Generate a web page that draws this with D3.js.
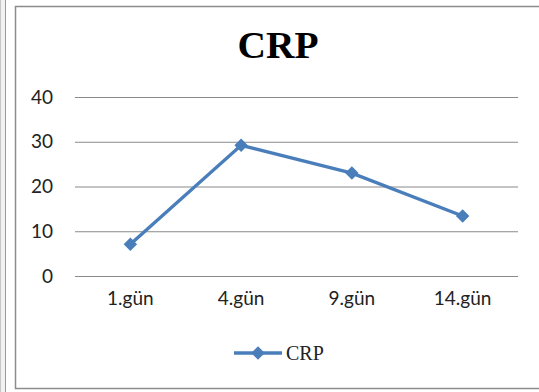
<!DOCTYPE html>
<html>
<head>
<meta charset="utf-8">
<script src="https://cdn.jsdelivr.net/npm/d3@7"></script>
<style>
  body { margin: 0; background: #fff; }
</style>
</head>
<body>
<div id="chart-area"></div>
<script>
// chart values
var days = ["1.gün", "4.gün", "9.gün", "14.gün"];
var crpValues = [7.1, 29.2, 23.0, 13.4];
var yTicks = [0, 10, 20, 30, 40];
var seriesName = "CRP";

var W = 539, H = 392;
var margin = { top: 97, bottom: 116, left: 75, right: 21 };
var width = W - margin.left - margin.right,
    height = H - margin.top - margin.bottom;

var svg = d3.select("#chart-area")
    .append("svg")
        .attr("width", W)
        .attr("height", H);

// outer frames
svg.append("rect")
    .attr("x", 0).attr("y", -2).attr("width", 5.5).attr("height", H + 4)
    .attr("fill", "#f2f2f2").attr("stroke", "#9a9a9a");
svg.append("rect")
    .attr("x", 15.5).attr("y", 6.5).attr("width", W + 10).attr("height", 382)
    .attr("fill", "#fff").attr("stroke", "#8c8c8c").attr("stroke-width", 1.5);

// title
svg.append("text")
    .attr("x", 278).attr("y", 58)
    .attr("text-anchor", "middle")
    .style("font-family", "'Liberation Serif', 'Times New Roman', serif")
    .style("font-weight", "bold")
    .style("font-size", "37px")
    .attr("textLength", 81)
    .attr("lengthAdjust", "spacingAndGlyphs")
    .text(seriesName);

var g = svg.append("g")
    .attr("transform", "translate(" + margin.left + "," + margin.top + ")");

var x = d3.scaleBand()
    .domain(days)
    .range([0, width]);

var y = d3.scaleLinear()
    .domain([0, 40])
    .range([height, 0]);

var labelFont = "Lato, 'Open Sans', sans-serif";

// gridlines + y labels
var yAxisCall = d3.axisLeft(y)
    .tickValues(yTicks)
    .tickSize(-width)
    .tickPadding(22);
var yAxis = g.append("g")
    .attr("class", "y-axis")
    .call(yAxisCall);
yAxis.select(".domain").remove();
yAxis.selectAll("line")
    .attr("stroke", "#8a8a8a")
    .attr("stroke-width", 1.2);
yAxis.selectAll("text")
    .attr("fill", "#222")
    .style("font-family", labelFont)
    .style("font-size", "19px");

// x labels
var xAxisCall = d3.axisBottom(x).tickSize(0).tickPadding(16);
var xAxis = g.append("g")
    .attr("class", "x axis")
    .attr("transform", "translate(0," + height + ")")
    .call(xAxisCall);
xAxis.select(".domain").remove();
xAxis.selectAll("text")
    .attr("fill", "#222")
    .style("font-family", labelFont)
    .style("font-size", "19px");

var color = "#4a7ebb";
var diamond = d3.symbol().type(d3.symbolDiamond2).size(115);

var line = d3.line()
    .x(function(d, i) { return x(days[i]) + x.bandwidth() / 2; })
    .y(function(d) { return y(d); });

g.append("path")
    .datum(crpValues)
    .attr("d", line)
    .attr("fill", "none")
    .attr("stroke", color)
    .attr("stroke-width", 3.4);

g.selectAll(".pt")
    .data(crpValues)
    .enter()
    .append("path")
        .attr("class", "pt")
        .attr("d", diamond)
        .attr("transform", function(d, i) {
            return "translate(" + (x(days[i]) + x.bandwidth() / 2) + "," + y(d) + ")";
        })
        .attr("fill", color);

// legend
var lg = svg.append("g").attr("transform", "translate(234,353)");
lg.append("line")
    .attr("x1", 0).attr("x2", 48)
    .attr("stroke", color).attr("stroke-width", 3.4);
lg.append("path")
    .attr("d", diamond)
    .attr("transform", "translate(24,0)")
    .attr("fill", color);
lg.append("text")
    .attr("x", 52).attr("y", 7)
    .style("font-family", "'Liberation Serif', 'Times New Roman', serif")
    .style("font-size", "20px")
    .attr("fill", "#222")
    .text(seriesName);
</script>
</body>
</html>
